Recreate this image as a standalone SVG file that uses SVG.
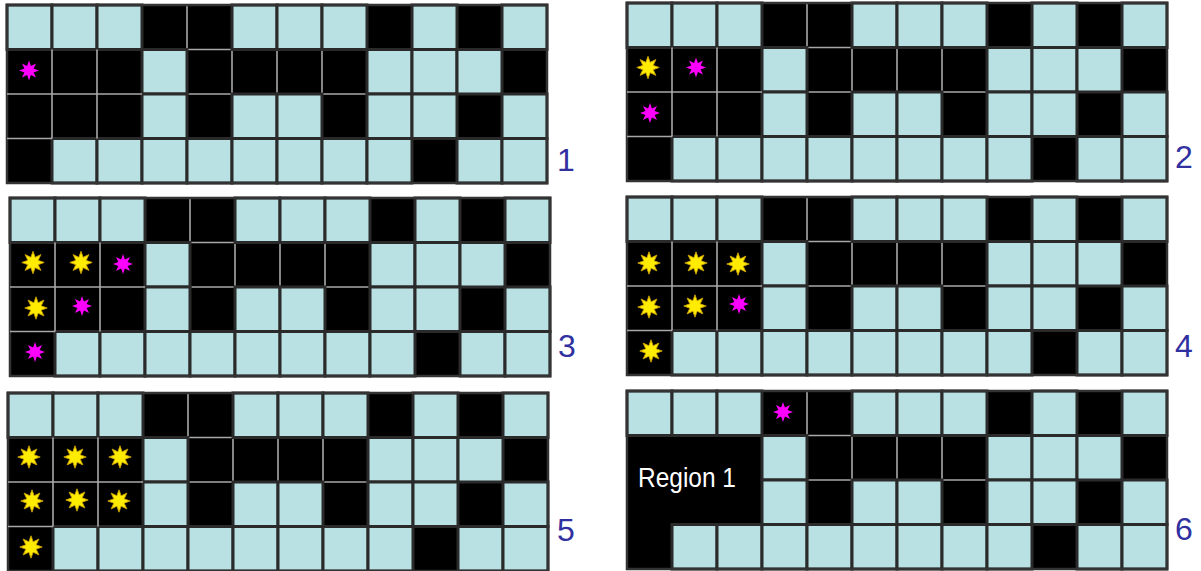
<svg xmlns="http://www.w3.org/2000/svg" xmlns:xlink="http://www.w3.org/1999/xlink" width="1201" height="571" viewBox="0 0 1201 571">
<style>
.c{fill:#b9e1e4;stroke:#2a2a2a;stroke-width:3}
.gl{fill:none;stroke:#a8a8a8;stroke-width:1.6}
.ob{fill:none;stroke:#333;stroke-width:2.5}
.lbl{font-family:"Liberation Sans",Arial,sans-serif;font-size:32px;fill:#3030a0;text-anchor:middle}
.reg{font-family:"Liberation Sans",Arial,sans-serif;font-size:27px;fill:#fff}
</style>
<defs>
<polygon id="star" points="0,-10 1.91,-4.62 7.07,-7.07 4.62,-1.91 10,0 4.62,1.91 7.07,7.07 1.91,4.62 0,10 -1.91,4.62 -7.07,7.07 -4.62,1.91 -10,0 -4.62,-1.91 -7.07,-7.07 -1.91,-4.62"/>
<use id="sm" xlink:href="#star" href="#star" fill="#ff00ff"/>
<g id="sy"><use xlink:href="#star" href="#star" transform="scale(1.12)" fill="#ffec00" stroke="#c8a000" stroke-width="0.8"/></g>
<g id="grid">
<rect width="540" height="178" fill="#000"/>
<path class="gl" d="M180 0V44.5M225 44.5V89M270 44.5V89M315 44.5V89M180 44.5H225M180 89H225M315 89H360"/>
<rect class="c" x="0" y="0" width="45" height="44.5"/>
<rect class="c" x="45" y="0" width="45" height="44.5"/>
<rect class="c" x="90" y="0" width="45" height="44.5"/>
<rect class="c" x="225" y="0" width="45" height="44.5"/>
<rect class="c" x="270" y="0" width="45" height="44.5"/>
<rect class="c" x="315" y="0" width="45" height="44.5"/>
<rect class="c" x="405" y="0" width="45" height="44.5"/>
<rect class="c" x="495" y="0" width="45" height="44.5"/>
<rect class="c" x="135" y="44.5" width="45" height="44.5"/>
<rect class="c" x="360" y="44.5" width="45" height="44.5"/>
<rect class="c" x="405" y="44.5" width="45" height="44.5"/>
<rect class="c" x="450" y="44.5" width="45" height="44.5"/>
<rect class="c" x="135" y="89" width="45" height="44.5"/>
<rect class="c" x="225" y="89" width="45" height="44.5"/>
<rect class="c" x="270" y="89" width="45" height="44.5"/>
<rect class="c" x="360" y="89" width="45" height="44.5"/>
<rect class="c" x="405" y="89" width="45" height="44.5"/>
<rect class="c" x="495" y="89" width="45" height="44.5"/>
<rect class="c" x="45" y="133.5" width="45" height="44.5"/>
<rect class="c" x="90" y="133.5" width="45" height="44.5"/>
<rect class="c" x="135" y="133.5" width="45" height="44.5"/>
<rect class="c" x="180" y="133.5" width="45" height="44.5"/>
<rect class="c" x="225" y="133.5" width="45" height="44.5"/>
<rect class="c" x="270" y="133.5" width="45" height="44.5"/>
<rect class="c" x="315" y="133.5" width="45" height="44.5"/>
<rect class="c" x="360" y="133.5" width="45" height="44.5"/>
<rect class="c" x="450" y="133.5" width="45" height="44.5"/>
<rect class="c" x="495" y="133.5" width="45" height="44.5"/>
<rect class="ob" width="540" height="178"/>
</g>
<path id="rl" class="gl" d="M45 44.5V133.5M90 44.5V133.5M0 89H135M0 133.5H45"/>
</defs>

<g id="panel1" transform="translate(7,5)">
<use xlink:href="#grid" href="#grid"/>
<use xlink:href="#rl" href="#rl"/>
<use xlink:href="#sm" href="#sm" x="22" y="65.5"/>
</g>
<g id="panel2" transform="translate(627,3)">
<use xlink:href="#grid" href="#grid"/>
<use xlink:href="#rl" href="#rl"/>
<use xlink:href="#sy" href="#sy" x="21" y="64.5"/>
<use xlink:href="#sm" href="#sm" x="69" y="64.5"/>
<use xlink:href="#sm" href="#sm" x="23" y="110"/>
</g>
<g id="panel3" transform="translate(10,198)">
<use xlink:href="#grid" href="#grid"/>
<use xlink:href="#rl" href="#rl"/>
<use xlink:href="#sy" href="#sy" x="23" y="64.5"/>
<use xlink:href="#sy" href="#sy" x="71" y="64.5"/>
<use xlink:href="#sm" href="#sm" x="113" y="66"/>
<use xlink:href="#sy" href="#sy" x="26" y="110"/>
<use xlink:href="#sm" href="#sm" x="72" y="108"/>
<use xlink:href="#sm" href="#sm" x="25" y="154"/>
</g>
<g id="panel4" transform="translate(627,197)">
<use xlink:href="#grid" href="#grid"/>
<use xlink:href="#rl" href="#rl"/>
<use xlink:href="#sy" href="#sy" x="22" y="66"/>
<use xlink:href="#sy" href="#sy" x="69" y="66"/>
<use xlink:href="#sy" href="#sy" x="111" y="67"/>
<use xlink:href="#sy" href="#sy" x="22" y="110"/>
<use xlink:href="#sy" href="#sy" x="68" y="109"/>
<use xlink:href="#sm" href="#sm" x="112" y="107"/>
<use xlink:href="#sy" href="#sy" x="24" y="154"/>
</g>
<g id="panel5" transform="translate(8,393)">
<use xlink:href="#grid" href="#grid"/>
<use xlink:href="#rl" href="#rl"/>
<use xlink:href="#sy" href="#sy" x="21" y="64"/>
<use xlink:href="#sy" href="#sy" x="67" y="64"/>
<use xlink:href="#sy" href="#sy" x="112" y="64"/>
<use xlink:href="#sy" href="#sy" x="24" y="108"/>
<use xlink:href="#sy" href="#sy" x="69" y="107"/>
<use xlink:href="#sy" href="#sy" x="111" y="108"/>
<use xlink:href="#sy" href="#sy" x="23" y="154"/>
</g>
<g id="panel6" transform="translate(627,391)">
<use xlink:href="#grid" href="#grid"/>
<use xlink:href="#sm" href="#sm" x="156" y="21"/>
<text class="reg" x="11" y="96" textLength="98" lengthAdjust="spacingAndGlyphs">Region 1</text>
</g>

<g id="labels">
<text class="lbl" x="566" y="171">1</text>
<text class="lbl" x="1184" y="168">2</text>
<text class="lbl" x="567" y="357">3</text>
<text class="lbl" x="1184" y="357">4</text>
<text class="lbl" x="566" y="541">5</text>
<text class="lbl" x="1184" y="540">6</text>
</g>
</svg>
